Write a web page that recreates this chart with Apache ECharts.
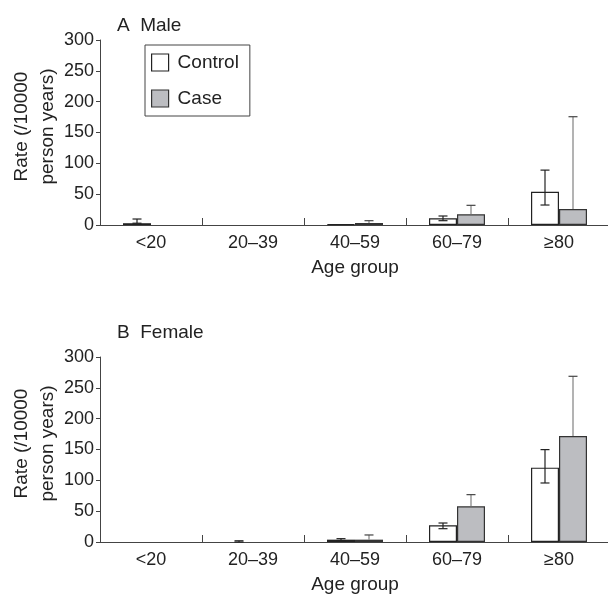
<!DOCTYPE html>
<html>
<head>
<meta charset="utf-8">
<script src="https://cdn.jsdelivr.net/npm/echarts@6/dist/echarts.min.js"></script>
<style>html,body{margin:0;padding:0;background:#fff}#c{width:608px;height:594px}</style>
</head>
<body>
<div id="c"></div>
<script>
// ---- data ----
const categories = ['<20', '20–39', '40–59', '60–79', '≥80'];
const yTicks = [0, 50, 100, 150, 200, 250, 300];

const maleControl      = [2.9, null, 1, 10.8, 54];
const maleControlLow   = [null, null, null, 7, 32.4];
const maleControlHigh  = [9.7, null, null, 14.6, 89];
const maleCase         = [null, null, 3.2, 17.3, 26];
const maleCaseHigh     = [null, null, 7, 31.9, 175.6];

const femaleControl     = [null, null, 3.8, 27, 120.6];
const femaleControlLow  = [null, 0, 2, 21.6, 95.7];
const femaleControlHigh = [null, 2, 5.4, 30.8, 149.8];
const femaleCase        = [null, null, 3.8, 57.9, 171.9];
const femaleCaseHigh    = [null, null, 11.4, 76.8, 268.7];

// ---- styling ----
const FONT = 'Liberation Sans';
const TXT = '#222';
const BAR_W = 28;
const CAP = 9;
const GRID_TOPS = [40, 357];
const GRID_H = 185;

function errData(vals, lows, highs) {
  const out = [];
  vals.forEach((v, i) => {
    if (highs[i] == null) return;
    out.push([i, lows[i] == null ? (v == null ? 0 : v) : lows[i], highs[i]]);
  });
  return out;
}

function errSeries(gi, data, side, lineColor, capColor, showLowerCap) {
  return {
    type: 'custom', xAxisIndex: gi, yAxisIndex: gi, z: 5, silent: true,
    data: data,
    renderItem: function (params, api) {
      const top = api.coord([api.value(0), api.value(2)]);
      const bot = api.coord([api.value(0), api.value(1)]);
      const x = top[0] + side * BAR_W / 2;
      const children = [
        { type: 'line', shape: { x1: x, y1: top[1], x2: x, y2: bot[1] }, style: { stroke: lineColor, lineWidth: 1.2 } },
        { type: 'line', shape: { x1: x - CAP / 2, y1: top[1], x2: x + CAP / 2, y2: top[1] }, style: { stroke: capColor, lineWidth: 1.2 } }
      ];
      if (showLowerCap) {
        children.push({ type: 'line', shape: { x1: x - CAP / 2, y1: bot[1], x2: x + CAP / 2, y2: bot[1] }, style: { stroke: capColor, lineWidth: 1.2 } });
      }
      return { type: 'group', children: children };
    }
  };
}

const grids = GRID_TOPS.map(t => ({ left: 100, right: -2, top: t, height: GRID_H, containLabel: false, outerBoundsMode: 'none' }));

const xAxes = [0, 1].map(gi => ({
  type: 'category', gridIndex: gi, data: categories,
  boundaryGap: true,
  name: 'Age group', nameLocation: 'middle', nameGap: 33,
  nameTextStyle: { fontFamily: FONT, fontSize: 19, color: TXT },
  axisLine: { show: true, lineStyle: { color: '#444', width: 1 } },
  axisTick: { show: true, inside: true, length: 7, alignWithLabel: false, lineStyle: { color: '#444' } },
  axisLabel: { fontFamily: FONT, fontSize: 18, color: TXT, margin: 9 },
  splitLine: { show: false }
}));

const yAxes = [0, 1].map(gi => ({
  type: 'value', gridIndex: gi, min: yTicks[0], max: yTicks[yTicks.length - 1], interval: yTicks[1] - yTicks[0],
  name: 'Rate (/10000\nperson years)', nameLocation: 'middle', nameGap: 39, nameRotate: 90,
  nameMoveOverlap: false,
  nameTextStyle: { fontFamily: FONT, fontSize: 19, color: TXT, lineHeight: 26, padding: [0, 0, 0, 12] },
  axisLine: { show: true, lineStyle: { color: '#444', width: 1 } },
  axisTick: { show: true, inside: false, length: 4, lineStyle: { color: '#444' } },
  axisLabel: { fontFamily: FONT, fontSize: 18, color: TXT, margin: 6 },
  splitLine: { show: false }
}));

const ctrlStyle = { color: '#ffffff', borderColor: '#222', borderWidth: 1.2 };
const caseStyle = { color: '#bcbdc1', borderColor: '#333', borderWidth: 1.2 };

function barSeries(gi, name, data, style) {
  return {
    type: 'bar', name: name, xAxisIndex: gi, yAxisIndex: gi, data: data,
    barWidth: BAR_W, barGap: '0%', itemStyle: style, z: 2, silent: true
  };
}

const option = {
  animation: false,
  backgroundColor: '#fff',
  textStyle: { fontFamily: FONT },
  title: [
    { text: 'A  Male', left: 112, top: 11, textStyle: { fontFamily: FONT, fontSize: 19, fontWeight: 'normal', color: TXT } },
    { text: 'B  Female', left: 112, top: 318, textStyle: { fontFamily: FONT, fontSize: 19, fontWeight: 'normal', color: TXT } }
  ],
  legend: {
    orient: 'vertical', left: 145, top: 45,
    padding: [8, 11, 8, 6],
    itemWidth: 17, itemHeight: 17, itemGap: 17,
    borderColor: '#444', borderWidth: 1,
    icon: 'rect',
    textStyle: { fontFamily: FONT, fontSize: 19, color: TXT, lineHeight: 17, padding: [0, 0, 0, 4] },
    data: [
      { name: 'Control', itemStyle: ctrlStyle },
      { name: 'Case', itemStyle: caseStyle }
    ],
    selectedMode: false
  },
  grid: grids,
  xAxis: xAxes,
  yAxis: yAxes,
  series: [
    barSeries(0, 'Control', maleControl, ctrlStyle),
    barSeries(0, 'Case', maleCase, caseStyle),
    errSeries(0, errData(maleControl, maleControlLow, maleControlHigh), -1, '#222', '#222', true),
    errSeries(0, errData(maleCase, maleCase.map(() => null), maleCaseHigh), 1, '#808080', '#444', false),
    barSeries(1, 'Control', femaleControl, ctrlStyle),
    barSeries(1, 'Case', femaleCase, caseStyle),
    errSeries(1, errData(femaleControl, femaleControlLow, femaleControlHigh), -1, '#222', '#222', true),
    errSeries(1, errData(femaleCase, femaleCase.map(() => null), femaleCaseHigh), 1, '#808080', '#444', false)
  ]
};

const chart = echarts.init(document.getElementById('c'), null, { renderer: 'canvas' });
chart.setOption(option);
</script>
</body>
</html>
